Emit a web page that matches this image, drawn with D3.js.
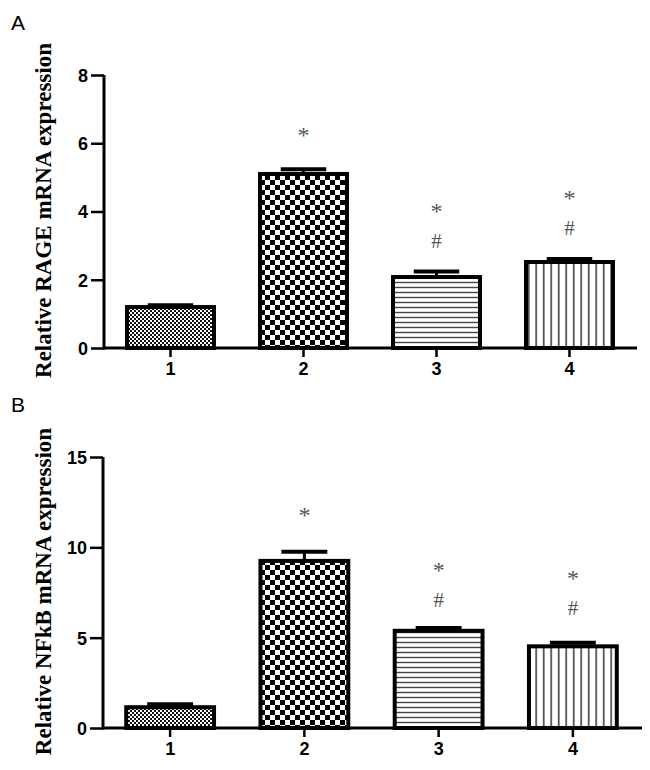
<!DOCTYPE html>
<html>
<head>
<meta charset="utf-8">
<style>
  body { margin: 0; background: #fff; }
  svg text { font-family: "Liberation Sans", Arial, sans-serif; }
</style>
</head>
<body>
<script src="https://cdn.jsdelivr.net/npm/d3@7"></script>
<script>
// data
var groups = ["1", "2", "3", "4"];
var rageMean = [1.2, 5.1, 2.08, 2.52];
var rageErr = [0.05, 0.14, 0.16, 0.09];
var rageTicks = [0, 2, 4, 6, 8];
var nfkbMean = [1.15, 9.25, 5.38, 4.52];
var nfkbErr = [0.16, 0.5, 0.16, 0.2];
var nfkbTicks = [0, 5, 10, 15];
var marks = [[], ["*"], ["*", "#"], ["*", "#"]];

var svg = d3.select("body").append("svg")
  .attr("width", 650)
  .attr("height", 770);

// fill patterns, one per group
var defs = svg.append("defs");
var p1 = defs.append("pattern").attr("id", "pat0").attr("patternUnits", "userSpaceOnUse")
  .attr("width", 4).attr("height", 4);
p1.append("rect").attr("width", 4).attr("height", 4).attr("fill", "#fff");
p1.append("rect").attr("width", 2).attr("height", 2).attr("fill", "#111");
p1.append("rect").attr("x", 2).attr("y", 2).attr("width", 2).attr("height", 2).attr("fill", "#111");

var p2 = defs.append("pattern").attr("id", "pat1").attr("patternUnits", "userSpaceOnUse")
  .attr("width", 10).attr("height", 10);
p2.append("rect").attr("width", 10).attr("height", 10).attr("fill", "#fff");
p2.append("rect").attr("width", 5).attr("height", 5).attr("fill", "#000");
p2.append("rect").attr("x", 5).attr("y", 5).attr("width", 5).attr("height", 5).attr("fill", "#000");

var p3 = defs.append("pattern").attr("id", "pat2").attr("patternUnits", "userSpaceOnUse")
  .attr("width", 6).attr("height", 5);
p3.append("rect").attr("width", 6).attr("height", 5).attr("fill", "#fff");
p3.append("line").attr("x1", 0).attr("x2", 6).attr("y1", 2.5).attr("y2", 2.5)
  .attr("stroke", "#444").attr("stroke-width", 1.4);

var p4 = defs.append("pattern").attr("id", "pat3").attr("patternUnits", "userSpaceOnUse")
  .attr("width", 7.5).attr("height", 6);
p4.append("rect").attr("width", 7.5).attr("height", 6).attr("fill", "#fff");
p4.append("line").attr("x1", 3.7).attr("x2", 3.7).attr("y1", 0).attr("y2", 6)
  .attr("stroke", "#333").attr("stroke-width", 1.5);

function panel(opt) {
  var g = svg.append("g");
  var x = d3.scaleBand().domain(groups).range([opt.left, opt.right])
    .paddingInner(0.316).paddingOuter(0.158);
  var y = d3.scaleLinear().domain([0, opt.max]).range([opt.bottom, opt.top]);

  // panel letter
  g.append("text").attr("x", 11).attr("y", opt.top - 45)
    .attr("font-size", 21).text(opt.letter);

  // y label
  g.append("text")
    .attr("transform", "translate(" + 51 + "," + ((opt.top + opt.bottom) / 2 - 1) + ") rotate(-90)")
    .attr("text-anchor", "middle")
    .style("font-family", "'Liberation Serif', 'Times New Roman', serif")
    .attr("font-weight", "bold")
    .attr("font-size", 23)
    .text(opt.label);

  // bars
  g.selectAll(".bar").data(opt.mean).enter().append("rect")
    .attr("x", function(d, i) { return x(groups[i]) + 2; })
    .attr("y", function(d) { return y(d); })
    .attr("width", x.bandwidth() - 4)
    .attr("height", function(d) { return opt.bottom - y(d); })
    .attr("fill", function(d, i) { return "url(#pat" + i + ")"; })
    .attr("stroke", "#000")
    .attr("stroke-width", 4);

  // error bars
  g.selectAll(".err").data(opt.mean).enter().append("line")
    .attr("x1", function(d, i) { return x(groups[i]) + x.bandwidth() / 2; })
    .attr("x2", function(d, i) { return x(groups[i]) + x.bandwidth() / 2; })
    .attr("y1", function(d) { return y(d); })
    .attr("y2", function(d, i) { return y(d + opt.err[i]); })
    .attr("stroke", "#000").attr("stroke-width", 3);
  g.selectAll(".cap").data(opt.mean).enter().append("line")
    .attr("x1", function(d, i) { return x(groups[i]) + x.bandwidth() * 0.25; })
    .attr("x2", function(d, i) { return x(groups[i]) + x.bandwidth() * 0.75; })
    .attr("y1", function(d, i) { return y(d + opt.err[i]); })
    .attr("y2", function(d, i) { return y(d + opt.err[i]); })
    .attr("stroke", "#000").attr("stroke-width", 4);

  // significance marks
  marks.forEach(function(m, i) {
    m.forEach(function(s, k) {
      g.append("text")
        .attr("x", x(groups[i]) + x.bandwidth() / 2)
        .attr("y", opt.markY[i] + k * 29)
        .attr("text-anchor", "middle")
        .attr("fill", "#555")
        .attr("font-size", s == "*" ? 24 : 21)
        .style("font-family", "'Liberation Serif', serif")
        .text(s);
    });
  });

  // axes
  var yAxis = d3.axisLeft(y).tickValues(opt.ticks).tickSize(13).tickPadding(3);
  var ya = g.append("g").attr("transform", "translate(" + opt.left + ",0)").call(yAxis);
  ya.select(".domain").attr("stroke-width", 3).attr("d", "M0," + opt.top + "V" + (opt.bottom + 1.5));
  ya.selectAll(".tick line").attr("stroke-width", 2.5);
  ya.selectAll("text").attr("font-size", 18).attr("font-weight", "bold").attr("fill", "#000")
    .attr("dy", "0.36em");

  var xAxis = d3.axisBottom(x).tickSize(9).tickPadding(5);
  var xa = g.append("g").attr("transform", "translate(0," + opt.bottom + ")").call(xAxis);
  xa.select(".domain").attr("stroke-width", 3)
    .attr("d", "M" + opt.left + ",0H" + opt.axisEnd);
  xa.selectAll(".tick line").attr("stroke-width", 2.5);
  xa.selectAll("text").attr("font-size", 18).attr("font-weight", "bold").attr("fill", "#000");
}

panel({
  letter: "A", label: "Relative RAGE mRNA expression",
  mean: rageMean, err: rageErr, ticks: rageTicks, max: 8,
  left: 104, right: 636, top: 75, bottom: 348, axisEnd: 637,
  markY: [0, 143, 219, 206]
});

panel({
  letter: "B", label: "Relative NFkB mRNA expression",
  mean: nfkbMean, err: nfkbErr, ticks: nfkbTicks, max: 15,
  left: 103, right: 640, top: 457, bottom: 728, axisEnd: 642,
  markY: [0, 523, 578, 586]
});
</script>
</body>
</html>
